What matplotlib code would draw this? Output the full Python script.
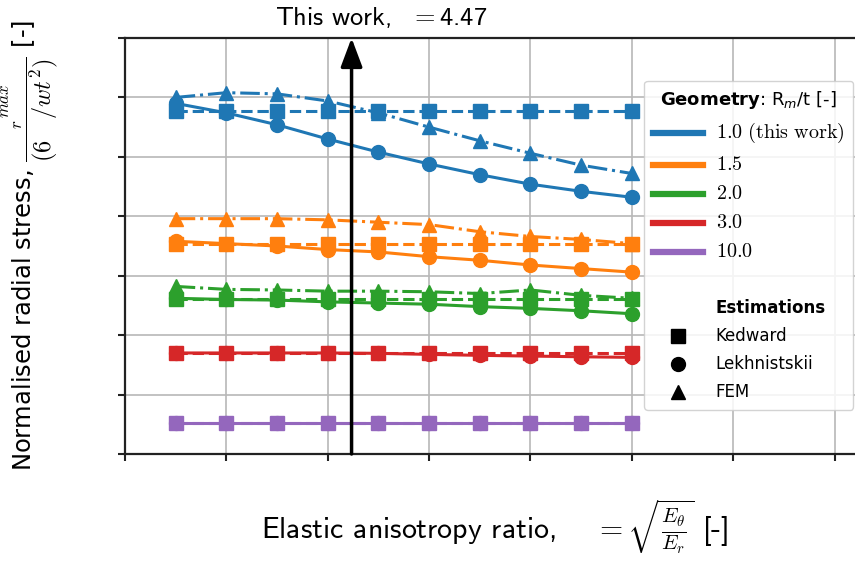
import matplotlib

matplotlib.use("Agg")

import matplotlib.pyplot as plt
from matplotlib.font_manager import FontProperties
from matplotlib.lines import Line2D


KAPPA = [1, 2, 3, 4, 5, 6, 7, 8, 9, 10]
THIS_WORK_KAPPA = 4.47

GEOMETRIES = ["1.0 (this work)", "1.5", "2.0", "3.0", "10.0"]
COLORS = ["#1f77b4", "#ff7f0e", "#2ca02c", "#d62728", "#9467bd"]

# Kedward estimation (flat in kappa)
KEDWARD = {
    "1.0": [0.289, 0.289, 0.289, 0.289, 0.289, 0.289, 0.289, 0.289, 0.289, 0.289],
    "1.5": [0.177, 0.177, 0.177, 0.177, 0.177, 0.177, 0.177, 0.177, 0.177, 0.177],
    "2.0": [0.130, 0.130, 0.130, 0.130, 0.130, 0.130, 0.130, 0.130, 0.130, 0.130],
    "3.0": [0.085, 0.085, 0.085, 0.085, 0.085, 0.085, 0.085, 0.085, 0.085, 0.085],
    "10.0": [0.026, 0.026, 0.026, 0.026, 0.026, 0.026, 0.026, 0.026, 0.026, 0.026],
}

# Lekhnistskii closed form
LEKHNISTSKII = {
    "1.0": [0.295, 0.287, 0.277, 0.265, 0.254, 0.244, 0.235, 0.227, 0.221, 0.216],
    "1.5": [0.179, 0.177, 0.175, 0.172, 0.170, 0.166, 0.163, 0.159, 0.156, 0.153],
    "2.0": [0.131, 0.130, 0.1295, 0.128, 0.127, 0.126, 0.124, 0.1225, 0.1205, 0.118],
    "3.0": [0.085, 0.085, 0.085, 0.085, 0.0847, 0.0838, 0.083, 0.0824, 0.0818, 0.0813],
    "10.0": [0.026, 0.026, 0.026, 0.026, 0.026, 0.026, 0.026, 0.026, 0.026, 0.026],
}

# FEM results
FEM = {
    "1.0": [0.300, 0.304, 0.303, 0.297, 0.287, 0.275, 0.2635, 0.253, 0.243, 0.236],
    "1.5": [0.198, 0.198, 0.198, 0.197, 0.195, 0.193, 0.187, 0.183, 0.1805, 0.177],
    "2.0": [0.141, 0.1385, 0.138, 0.137, 0.137, 0.1365, 0.135, 0.138, 0.1335, 0.131],
}

plt.rcParams["mathtext.fontset"] = "cm"

fig = plt.figure(figsize=(8.55, 5.63), dpi=100)
ax = fig.add_axes([125 / 855, 109 / 563, 740 / 855, 416 / 563])

for key, color in zip(KEDWARD, COLORS):
    ax.plot(KAPPA, LEKHNISTSKII[key], color=color, ls="-", marker="o",
            lw=2.2, markersize=10, zorder=3)
    ax.plot(KAPPA, KEDWARD[key], color=color, ls="--", marker="s",
            lw=2.2, markersize=10, zorder=3)
    if key in FEM:
        ax.plot(KAPPA, FEM[key], color=color, ls="-.", marker="^",
                lw=2.2, markersize=10, zorder=3)

ax.annotate("", xy=(THIS_WORK_KAPPA, 0.35), xytext=(THIS_WORK_KAPPA, 0.0),
            arrowprops=dict(arrowstyle="-|>,head_length=0.8,head_width=0.3",
                            color="k", lw=2.5, mutation_scale=22,
                            shrinkA=0, shrinkB=0),
            zorder=5, annotation_clip=False)

ax.set_xlim(0, 14.6)
ax.set_ylim(0, 0.35)
ax.set_xticks([0, 2, 4, 6, 8, 10, 12, 14])
ax.set_yticks([0, 0.05, 0.10, 0.15, 0.20, 0.25, 0.30, 0.35])
ax.tick_params(labelbottom=False, labelleft=False, direction="out",
               length=5, width=1.5, color="#222222")
ax.grid(True, color="#b8b8b8", lw=1.2, zorder=0)
ax.set_axisbelow(True)
for spine in ax.spines.values():
    spine.set_linewidth(1.6)
    spine.set_color("#222222")

fig.text(381 / 855, 1 - 18 / 563, f"This work,  $=${THIS_WORK_KAPPA:.2f}",
         ha="center", va="center", fontsize=19, family="cmss10")
fig.text(495 / 855, 1 - 527 / 563,
         r"Elastic anisotropy ratio,  $\ \ =\sqrt{\frac{E_\theta}{E_r}}$ [-]",
         ha="center", va="center", fontsize=21.5, family="cmss10")
fig.text(30 / 855, 1 - 245 / 563,
         r"Normalised radial stress, $\dfrac{\ {}_{r}{}^{max}}{(6\ \ \ /wt^2)}$ [-]",
         ha="center", va="center", rotation=90, fontsize=17.5, family="DejaVu Sans")

handles = [Line2D([], [], color=c, lw=4.5) for c in COLORS]
labels = [r"$\mathrm{" + g.replace(" ", r"\ ") + "}$" for g in GEOMETRIES]
handles += [Line2D([], [], ls="none"), Line2D([], [], ls="none")]
labels += ["", "Estimations"]
for m in ["s", "o", "^"]:
    handles.append(Line2D([], [], color="k", ls="none", marker=m, markersize=10))
labels += ["Kedward", "Lekhnistskii", "FEM"]

leg = ax.legend(handles, labels, loc="upper right",
                bbox_to_anchor=(853 / 855, 1 - 81 / 563),
                bbox_transform=fig.transFigure, borderaxespad=0,
                title=r"$\bf{Geometry}$: R$_m$/t [-]",
                title_fontproperties=FontProperties(size=13, math_fontfamily="dejavusans"),
                prop=FontProperties(family="DejaVu Sans", size=12, math_fontfamily="cm"),
                handlelength=3.0, handletextpad=0.8, labelspacing=0.6,
                borderpad=0.5, framealpha=0.85, edgecolor="#cccccc")
for t in leg.get_texts()[:5]:
    t.set_fontsize(14.5)
leg.get_texts()[6].set_fontweight("bold")
leg.set_zorder(10)

fig.savefig("out.png", dpi=100)
